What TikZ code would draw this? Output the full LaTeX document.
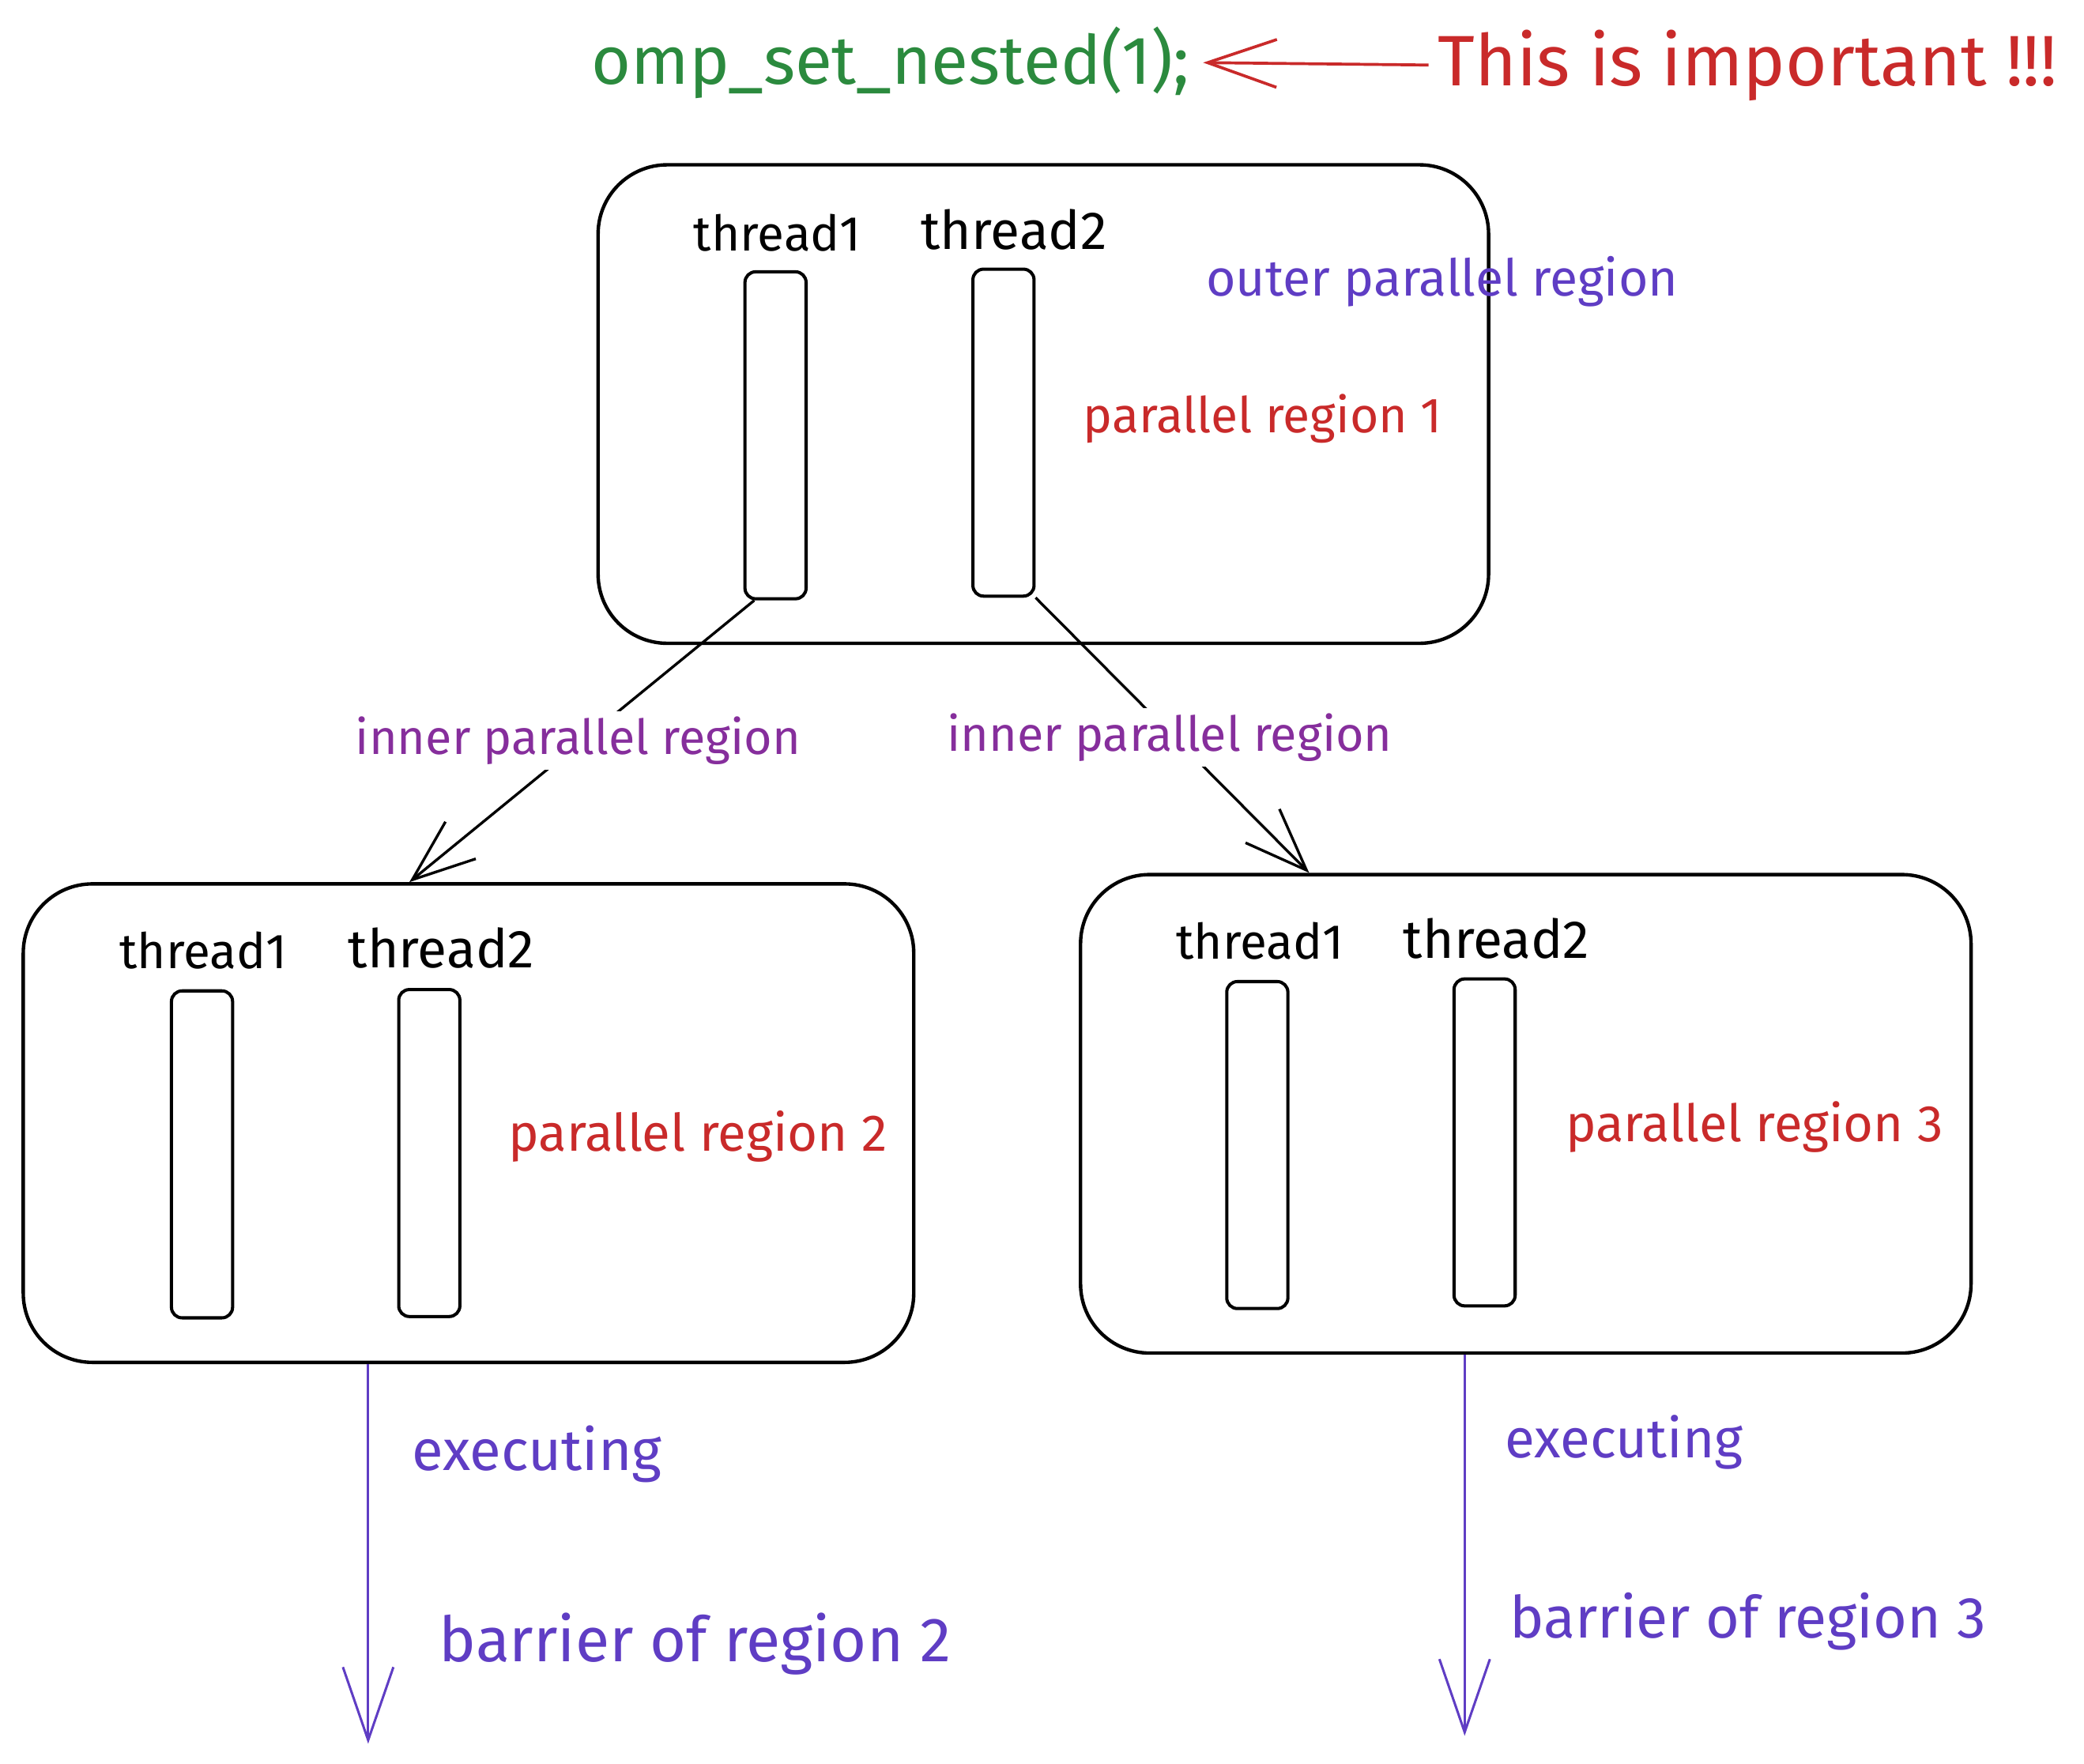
\documentclass[tikz,border=0pt]{standalone}
\usepackage{fontspec}
\setmainfont{Fira Sans}
\usetikzlibrary{arrows.meta}
\definecolor{exgreen}{HTML}{2B8A3E}
\definecolor{exred}{HTML}{C92A2A}
\definecolor{exgrape}{HTML}{862E9C}
\definecolor{exviolet}{HTML}{5F3DC4}
\newcommand{\tw}[2]{\resizebox{#1pt}{!}{#2}}
\begin{document}
\begin{tikzpicture}[x=1pt,y=-1pt,
  region/.style={draw=black, line width=2.6pt, rounded corners=52pt, inner sep=0pt,
    minimum width=670pt, minimum height=360pt},
  bar/.style={draw=black, line width=2.4pt, rounded corners=8pt, inner sep=0pt,
    minimum width=46pt, minimum height=246pt},
  lab/.style={inner sep=0pt},
  inlab/.style={inner sep=4pt, fill=white, text=exgrape},
  conn/.style={draw=black, line width=2pt, -{Straight Barb[length=47pt,width=36pt]}},
  flow/.style={draw=exviolet, line width=1.8pt, -{Straight Barb[length=55pt,width=38pt]}},
  note/.style={draw=exred, line width=2.2pt, -{Straight Barb[length=52pt,width=36pt]}}
]
\useasboundingbox (0,0) rectangle (1568,1327);

% regions
\node[region] (box1) at (785,304) {};
\node[region] (box2) at (352.5,845) {};
\node[region] (box3) at (1148,838) {};

% thread bars
\node[bar] (bar1) at (583.5,327.5) {};
\node[bar] (bar2) at (755,325.5) {};
\node[bar] (bar3) at (152,868.5) {};
\node[bar] (bar4) at (323,867.5) {};
\node[bar] (bar5) at (946,861.5) {};
\node[bar] (bar6) at (1117,859.5) {};

% title and note
\node[lab, text=exgreen] (title) at (670,47) {\tw{450}{omp\_set\_nested(1);}};
\node[lab, text=exred] (imp) at (1315,49) {\tw{466}{This is important !!!}};
\draw[note, shorten >=10pt, shorten <=7pt] (imp.west) -- (title.east);

% thread labels
\node[lab] (t1) at (585,175) {\tw{126}{thread1}};
\node[lab] (t2) at (763,173) {\tw{140}{thread2}};
\node[lab] (t3) at (153,715) {\tw{126}{thread1}};
\node[lab] (t4) at (332,713) {\tw{140}{thread2}};
\node[lab] (t5) at (948,708) {\tw{126}{thread1}};
\node[lab] (t6) at (1126,706) {\tw{140}{thread2}};

% region labels
\node[lab, text=exviolet] (outer) at (1085,212) {\tw{355}{outer parallel region}};
\node[lab, text=exred] (pr1) at (950,315) {\tw{270}{parallel region 1}};
\node[lab, text=exred] (pr2) at (525,855) {\tw{285}{parallel region 2}};
\node[lab, text=exred] (pr3) at (1320,848) {\tw{284}{parallel region 3}};

% inner connectors
\coordinate (a1) at (308,0);
\coordinate (a2) at (985,0);
\draw[conn] ([xshift=-16pt]bar1.south) -- (box2.north -| a1);
\draw[conn] (bar2.south east) -- (box3.north -| a2);
\node[inlab] (in1) at (435,557) {\tw{335}{inner parallel region}};
\node[inlab] (in2) at (880,555) {\tw{335}{inner parallel region}};

% execution flow
\coordinate (e1) at (277,1312);
\coordinate (e2) at (1102,1306);
\draw[flow] (box2.south -| e1) -- (e1);
\draw[flow] (box3.south -| e2) -- (e2);
\node[lab, text=exviolet] (ex1) at (404,1094) {\tw{188}{executing}};
\node[lab, text=exviolet] (ex2) at (1222,1085) {\tw{179}{executing}};
\node[lab, text=exviolet] (bar2lab) at (523,1237) {\tw{385}{barrier of region 2}};
\node[lab, text=exviolet] (bar3lab) at (1315,1220) {\tw{358}{barrier of region 3}};
\end{tikzpicture}
\end{document}
